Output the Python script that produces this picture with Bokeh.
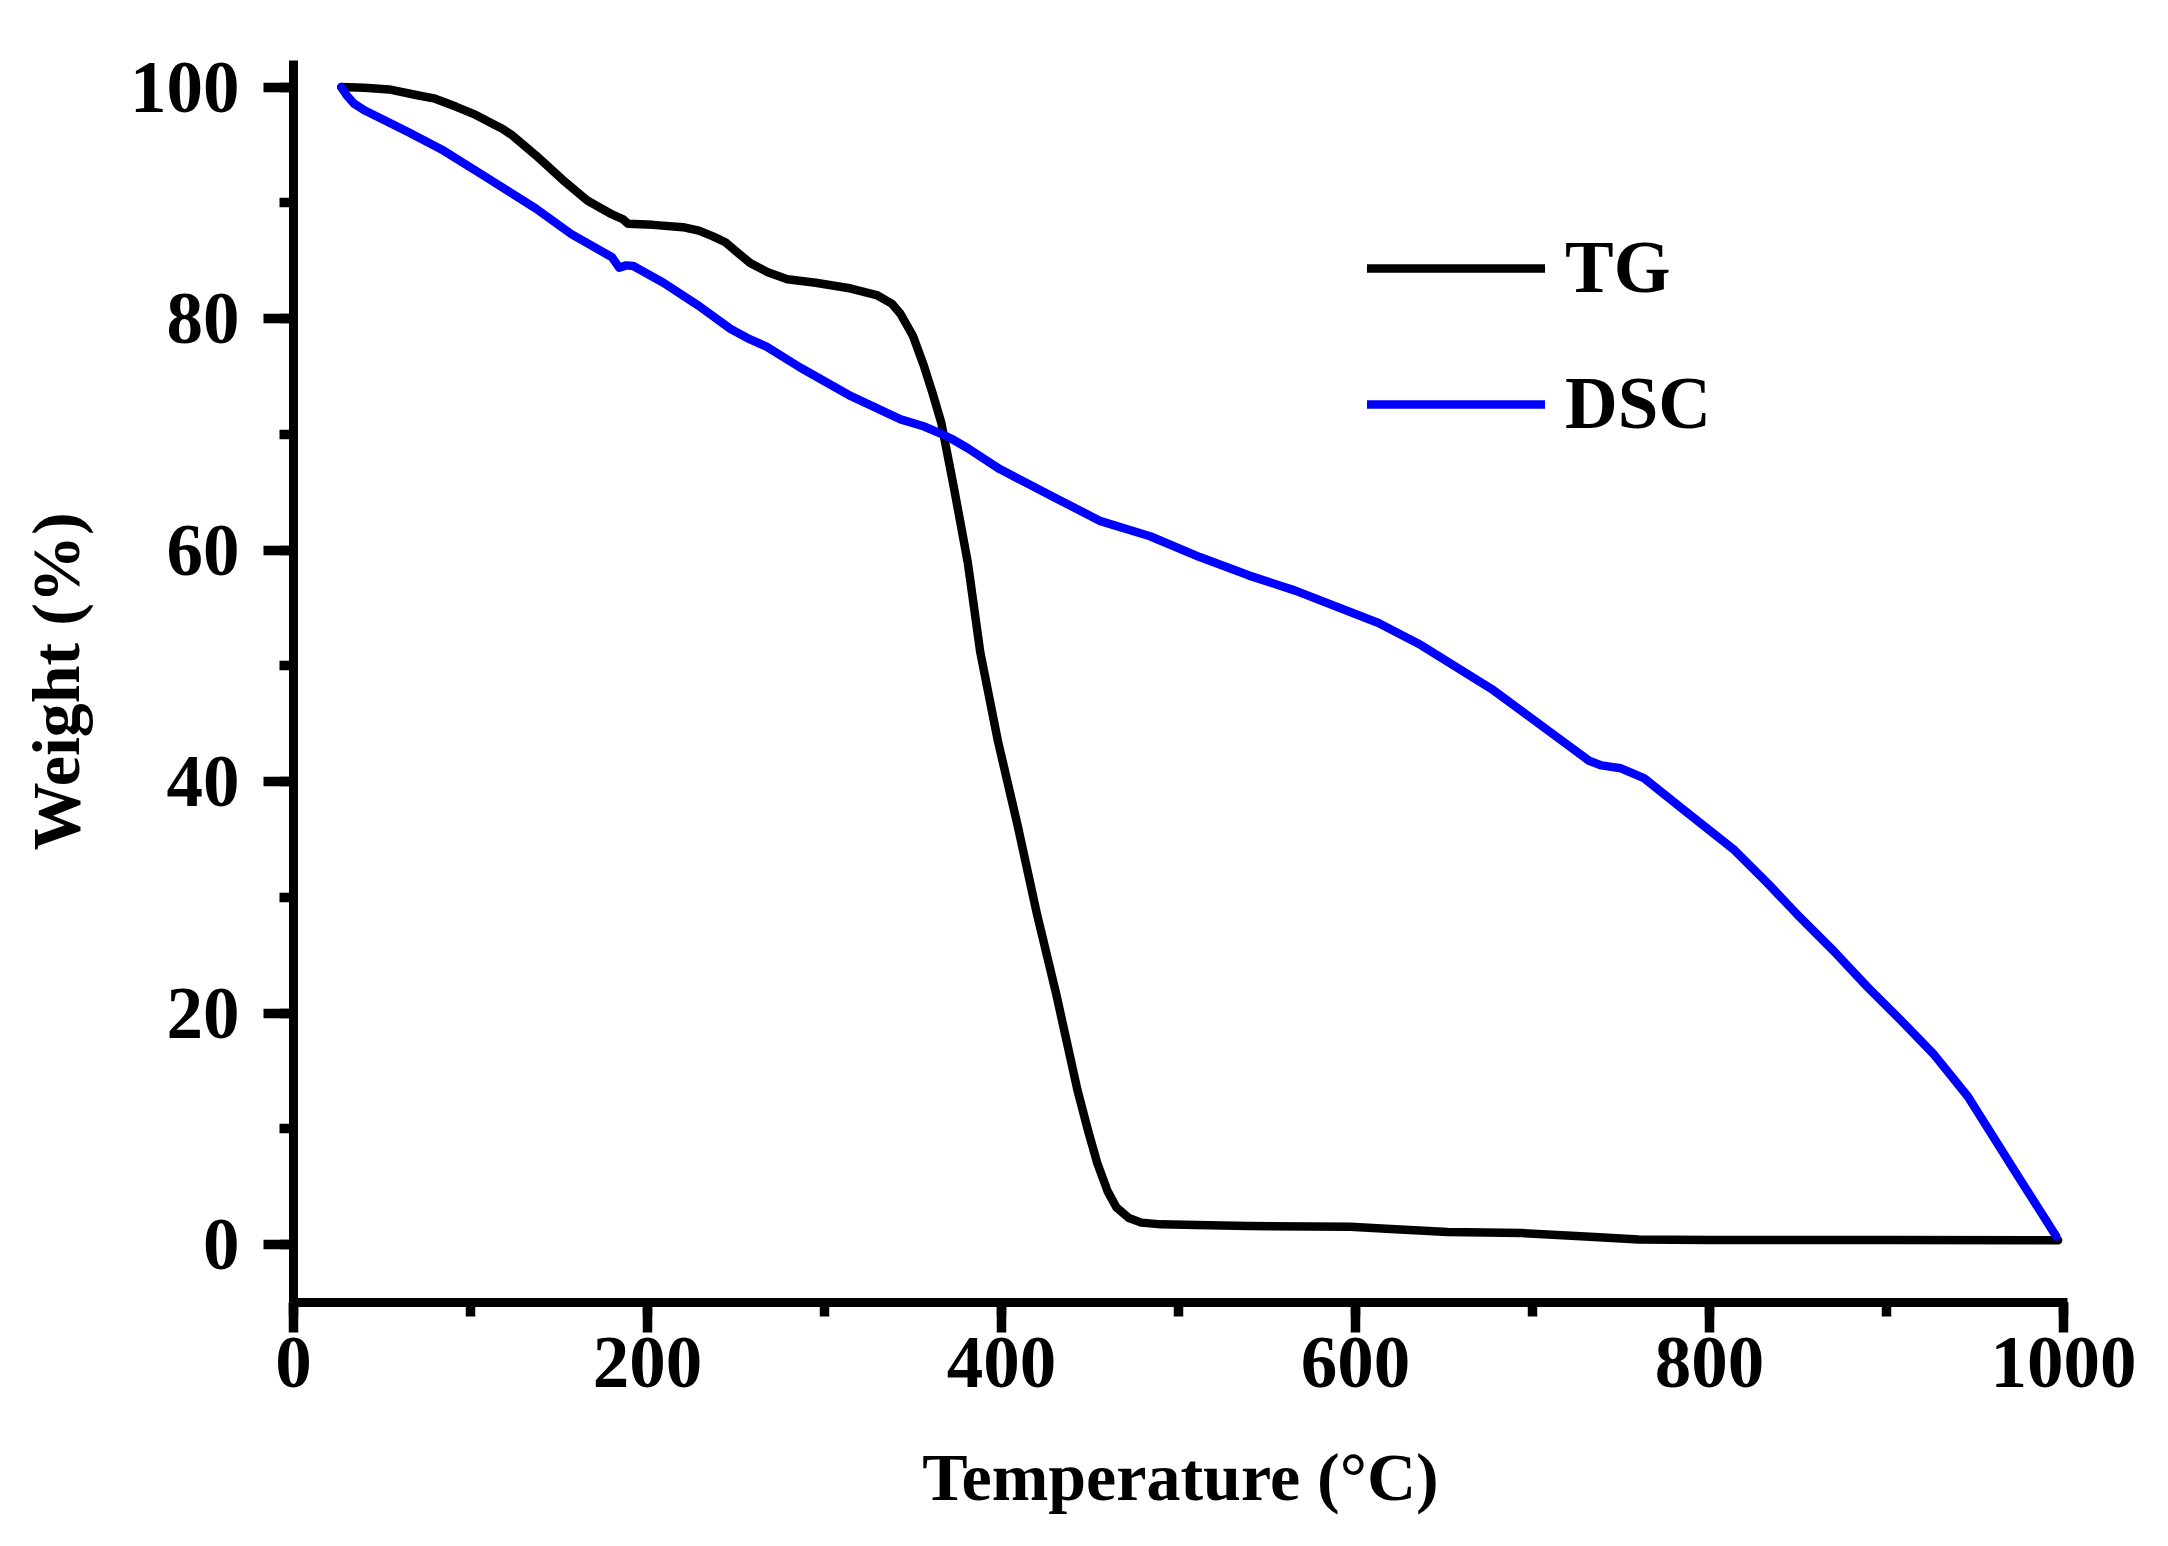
from bokeh.plotting import figure
from bokeh.models import Legend, LegendItem, SingleIntervalTicker, Range1d
from bokeh.embed import file_html
from bokeh.resources import INLINE

# ---- data ----
tg_temp = [27, 40, 54, 70, 80, 92, 103, 113, 118, 123, 130, 137, 152, 166, 180,
           186, 189, 203, 220, 229, 237, 244, 251, 258, 268, 279, 295, 315, 330,
           338, 343, 350, 356, 361, 366, 373, 381, 388, 398, 409, 420, 431, 443,
           449, 454, 460, 465, 472, 479, 490, 510, 540, 597, 620, 652, 694, 730,
           760, 800, 900, 997]
tg_weight = [100.0, 99.95, 99.8, 99.3, 99.0, 98.3, 97.6, 96.8, 96.4, 95.9, 95.0,
             94.1, 92.0, 90.2, 89.0, 88.6, 88.2, 88.1, 87.9, 87.6, 87.1, 86.6,
             85.7, 84.8, 84.0, 83.4, 83.1, 82.6, 82.0, 81.3, 80.4, 78.5, 76.0,
             73.6, 71.0, 65.5, 58.9, 51.2, 43.5, 36.3, 28.6, 21.6, 13.3, 9.8,
             7.1, 4.6, 3.2, 2.3, 1.9, 1.75, 1.7, 1.6, 1.55, 1.35, 1.1, 1.0, 0.7,
             0.45, 0.4, 0.4, 0.37]

dsc_temp = [27, 30, 34, 40, 48, 65, 85, 108, 137, 157, 180, 184, 188, 192, 209,
            229, 247, 258, 267, 286, 315, 343, 356, 366, 372, 381, 399, 428, 456,
            484, 512, 540, 566, 613, 637, 677, 716, 732, 739, 750, 763, 786, 814,
            833, 851, 870, 889, 908, 927, 946, 962, 974, 996]
dsc_weight = [100.0, 99.3, 98.6, 98.0, 97.4, 96.1, 94.5, 92.3, 89.5, 87.3, 85.3,
              84.4, 84.6, 84.55, 83.1, 81.1, 79.1, 78.2, 77.6, 75.8, 73.3, 71.3,
              70.7, 70.05, 69.6, 68.8, 67.0, 64.7, 62.5, 61.2, 59.4, 57.8, 56.5,
              53.7, 51.8, 48.0, 43.6, 41.8, 41.4, 41.15, 40.3, 37.5, 34.1, 31.2,
              28.3, 25.4, 22.3, 19.4, 16.4, 12.8, 8.9, 6.0, 0.7]

series_names = ["TG", "DSC"]
series_colors = ["black", "#0000FF"]
x_title = "Temperature (°C)"
y_title = "Weight (%)"

FONT = "Liberation Serif"

p = figure(frame_width=1774, frame_height=1242,
           min_border_left=293, min_border_right=83,
           min_border_top=60, min_border_bottom=226,
           x_range=Range1d(0, 1002.3), y_range=Range1d(-5.0, 102.3),
           output_backend="svg", toolbar_location=None,
           background_fill_color="white", border_fill_color="white")

p.outline_line_color = None
p.xgrid.visible = False
p.ygrid.visible = False

r_tg = p.line(tg_temp, tg_weight, line_color=series_colors[0], line_width=8.5,
              line_join="round", line_cap="round")
r_dsc = p.line(dsc_temp, dsc_weight, line_color=series_colors[1], line_width=8.5,
               line_join="round", line_cap="round")

p.xaxis.ticker = SingleIntervalTicker(interval=200, num_minor_ticks=2)
p.yaxis.ticker = SingleIntervalTicker(interval=20, num_minor_ticks=2)

for ax in (p.xaxis, p.yaxis):
    ax.axis_line_width = 9
    ax.axis_line_color = "black"
    ax.major_tick_line_width = 9.5
    ax.minor_tick_line_width = 9.5
    ax.major_tick_line_color = "black"
    ax.minor_tick_line_color = "black"
    ax.major_tick_out = 30
    ax.major_tick_in = 0
    ax.minor_tick_out = 14
    ax.minor_tick_in = 0
    ax.major_label_text_font = FONT
    ax.major_label_text_font_style = "bold"
    ax.major_label_text_font_size = "73px"
    ax.major_label_text_color = "black"
    ax.axis_label_text_font = FONT
    ax.axis_label_text_font_style = "bold"
    ax.axis_label_text_font_size = "68px"
    ax.axis_label_text_color = "black"

p.xaxis.axis_label = x_title
p.yaxis.axis_label = y_title
p.xaxis.major_label_standoff = 5
p.yaxis.major_label_standoff = 24
p.xaxis.axis_label_standoff = 49
p.yaxis.axis_label_standoff = 33

legend = Legend(items=[LegendItem(label=series_names[0], renderers=[r_tg]),
                       LegendItem(label=series_names[1], renderers=[r_dsc])],
                location=(1074, 853), orientation="vertical",
                glyph_width=178, glyph_height=90, label_height=90,
                label_standoff=20, spacing=46, padding=0, margin=0,
                border_line_color=None, background_fill_alpha=0,
                label_text_font=FONT, label_text_font_style="bold",
                label_text_font_size="73px", label_text_color="black")
p.add_layout(legend)

open("out.html", "w").write(file_html(p, INLINE))
